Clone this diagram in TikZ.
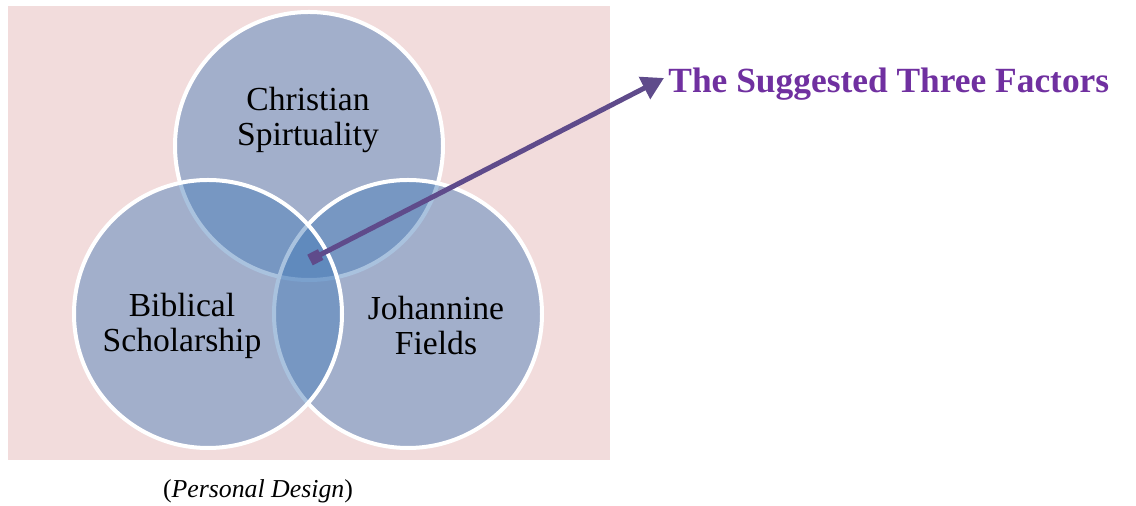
\documentclass[tikz,border=0pt]{standalone}
\usepackage{fontspec}
\setmainfont{Liberation Serif}
\usetikzlibrary{arrows.meta,positioning}
\definecolor{bgpink}{RGB}{242,220,220}
\definecolor{vennblue}{RGB}{69,123,185}
\definecolor{arrowpurple}{RGB}{95,75,139}
\definecolor{titlepurple}{RGB}{112,48,160}
\tikzset{
  venn/.style={circle,draw=white,line width=2pt,fill=vennblue,fill opacity=0.46,
    draw opacity=1,minimum size=134pt,inner sep=0pt},
  vennlabel/.style={align=center,font=\fontsize{16.8}{17.5}\selectfont,text=black},
}
\begin{document}
\begin{tikzpicture}[x=0.5pt,y=-0.5pt]
\useasboundingbox (0,0) rectangle (1136,506);
% \draw[help lines,step=50] (0,0) grid (1136,506);
\fill[bgpink] (8,6) rectangle (610,460);
%
\node (spirit) [venn] at (309,146) {};
\node (johan) [venn] at (408,314) {};
\node (bible) [venn] at (208,314) {};
%
\node (spiritlbl) [vennlabel] at (308,120) {Christian\\Spirtuality};
\node (biblelbl) [vennlabel] at (182,326) {Biblical\\Scholarship};
\node (johanlbl) [vennlabel] at (436,326) {Johannine\\Fields};
%
\node (title) [anchor=west,inner sep=2pt,text=titlepurple,
  font=\fontsize{17.7}{20}\selectfont\bfseries] at (664,84) {The Suggested Three Factors};
\node (caption) [font=\fontsize{12.9}{15}\selectfont] at (258,491) {(\textit{Personal Design})};
%
\coordinate (core) at (310,260);
\coordinate (tip) at ([yshift=3pt]title.west);
\draw[arrowpurple,line width=2.5pt,{Square[length=6pt,width=6pt]}-{Triangle[length=11pt,width=12pt]}]
  (core) -- (tip);
\end{tikzpicture}
\end{document}
